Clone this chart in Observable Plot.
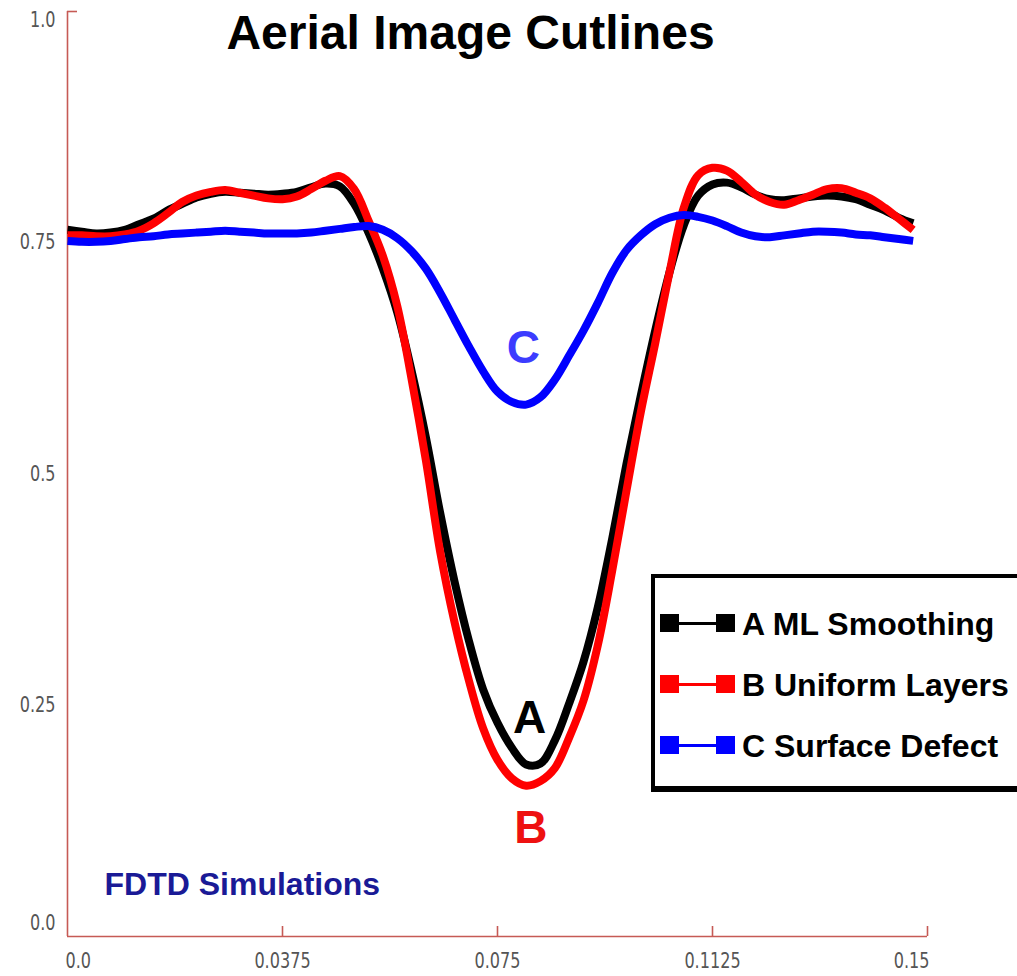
<!DOCTYPE html>
<html>
<head>
<meta charset="utf-8">
<script src="https://cdn.jsdelivr.net/npm/d3@7"></script>
<script src="https://cdn.jsdelivr.net/npm/@observablehq/plot@0.6"></script>
<style>
  html, body { margin: 0; padding: 0; background: #fff; overflow: hidden; }
  #wrap { position: relative; width: 1017px; height: 976px; overflow: hidden; }
  #legend { position: absolute; left: 651px; top: 574px; width: 420px; height: 208px;
            border: 4px solid #000; border-bottom-width: 6px; background: #fff; }
  #legend .sq { position: absolute; width: 19px; height: 18px; }
  #legend .ln { position: absolute; height: 3px; }
  #legend .lbl { position: absolute; font-family: "Liberation Sans", Arial, sans-serif;
                 font-weight: bold; font-size: 32px; line-height: 38px; color: #000; white-space: nowrap; }
</style>
</head>
<body>
<div id="wrap"></div>
<script>
// ---- data ----
const xValues = [0, 0.0025, 0.005, 0.0075, 0.01, 0.0125, 0.015, 0.0175, 0.02, 0.0225,
  0.025, 0.0275, 0.03, 0.0325, 0.035, 0.0375, 0.04, 0.0425, 0.045, 0.0475,
  0.05, 0.0525, 0.055, 0.0575, 0.06, 0.0625, 0.065, 0.0675, 0.07, 0.0725,
  0.075, 0.0775, 0.08, 0.0825, 0.085, 0.0875, 0.09, 0.0925, 0.095, 0.0975,
  0.1, 0.1025, 0.105, 0.1075, 0.11, 0.1125, 0.115, 0.1175, 0.12, 0.1225,
  0.125, 0.1275, 0.13, 0.1325, 0.135, 0.1375, 0.14, 0.1425, 0.145, 0.1475];

const seriesA = [0.764, 0.762, 0.760, 0.761, 0.764, 0.770, 0.776, 0.785, 0.792, 0.799,
  0.803, 0.805, 0.804, 0.803, 0.802, 0.803, 0.805, 0.810, 0.814, 0.811,
  0.792, 0.761, 0.722, 0.675, 0.612, 0.540, 0.458, 0.384, 0.320, 0.267,
  0.231, 0.204, 0.186, 0.187, 0.212, 0.252, 0.297, 0.356, 0.430, 0.511,
  0.585, 0.655, 0.718, 0.769, 0.801, 0.813, 0.815, 0.810, 0.802, 0.797,
  0.796, 0.798, 0.800, 0.801, 0.800, 0.797, 0.791, 0.785, 0.777, 0.771];

const seriesB = [0.758, 0.758, 0.757, 0.757, 0.759, 0.763, 0.771, 0.782, 0.794, 0.801,
  0.805, 0.807, 0.804, 0.801, 0.798, 0.797, 0.800, 0.808, 0.817, 0.822,
  0.808, 0.774, 0.736, 0.682, 0.603, 0.515, 0.416, 0.340, 0.277, 0.225,
  0.191, 0.171, 0.163, 0.168, 0.182, 0.215, 0.255, 0.315, 0.395, 0.482,
  0.567, 0.641, 0.718, 0.788, 0.823, 0.831, 0.828, 0.816, 0.802, 0.794,
  0.791, 0.796, 0.802, 0.808, 0.809, 0.804, 0.798, 0.788, 0.776, 0.764];

const seriesC = [0.752, 0.751, 0.751, 0.752, 0.754, 0.756, 0.757, 0.759, 0.760, 0.761,
  0.762, 0.763, 0.762, 0.761, 0.760, 0.760, 0.760, 0.761, 0.763, 0.765,
  0.767, 0.768, 0.764, 0.755, 0.741, 0.722, 0.696, 0.667, 0.638, 0.611,
  0.589, 0.578, 0.575, 0.583, 0.602, 0.628, 0.655, 0.685, 0.717, 0.742,
  0.758, 0.770, 0.777, 0.780, 0.778, 0.774, 0.768, 0.761, 0.757, 0.756,
  0.758, 0.760, 0.762, 0.762, 0.761, 0.759, 0.758, 0.756, 0.754, 0.752];

const seriesKeys = ["A", "B", "C"];
const seriesNames = ["A ML Smoothing", "B Uniform Layers", "C Surface Defect"];

const xTicks = [0.0, 0.0375, 0.075, 0.1125, 0.15];
const xTickLabels = ["0.0", "0.0375", "0.075", "0.1125", "0.15"];
const yTicks = [0.0, 0.25, 0.5, 0.75, 1.0];
const yTickLabels = ["0.0", "0.25", "0.5", "0.75", "1.0"];

const titleText = "Aerial Image Cutlines";
const noteText = "FDTD Simulations";
const curveLabels = ["C", "A", "B"];
const curveLabelX = [0.0795, 0.0806, 0.0808];
const curveLabelY = [0.636, 0.236, 0.117];

// ---- styles ----
const colors = {A: "#000000", B: "#ff0000", C: "#0000ff"};
const labelColors = {C: "#3c3cff", A: "#000000", B: "#ee1111"};
const axisColor = "#c65a55";
const tickFont = '"Liberation Sans Narrow", "DejaVu Sans Condensed", "Liberation Sans", sans-serif';
const boldFont = '"Liberation Sans", Arial, sans-serif';

// ---- tables ----
const rows = [];
[seriesA, seriesB, seriesC].forEach((vals, i) =>
  vals.forEach((v, j) => rows.push({x: xValues[j], y: v, s: seriesKeys[i]})));
const xTickData = xTicks.map((v, i) => ({v, label: xTickLabels[i]}));
const yTickData = yTicks.map((v, i) => ({v, label: yTickLabels[i]}));
const labelData = curveLabels.map((t, i) => ({t, x: curveLabelX[i], y: curveLabelY[i]}));

const tickTextStyle = {fill: "#555", fontSize: 21, fontFamily: tickFont, className: "ticklbl"};

const chart = Plot.plot({
  width: 1017,
  height: 976,
  marginLeft: 67,
  marginRight: 90,
  marginTop: 11,
  marginBottom: 40,
  style: {background: "#fff", overflow: "visible"},
  x: {domain: [0, 0.15], axis: null},
  y: {domain: [0, 1], axis: null},
  marks: [
    Plot.ruleX([0], {stroke: axisColor, strokeWidth: 1.6}),
    Plot.ruleY([0], {stroke: axisColor, strokeWidth: 1.6}),
    Plot.ruleX(xTicks.slice(1), {x: d => d, insetTop: 915, stroke: axisColor, strokeWidth: 1.6}),
    Plot.ruleY([1], {y: d => d, insetRight: 850, stroke: axisColor, strokeWidth: 1.6}),
    ...seriesKeys.map(k => Plot.line(rows.filter(r => r.s === k), {
      x: "x", y: "y", stroke: colors[k], strokeWidth: 8, curve: "catmull-rom",
      strokeLinejoin: "round", strokeLinecap: "butt"
    })),
    // x tick labels
    Plot.text(xTickData.slice(0, 1), {x: "v", text: "label", frameAnchor: "bottom", dy: 31, dx: -2, textAnchor: "start", ...tickTextStyle}),
    Plot.text(xTickData.slice(1, -1), {x: "v", text: "label", frameAnchor: "bottom", dy: 31, textAnchor: "middle", ...tickTextStyle}),
    Plot.text(xTickData.slice(-1), {x: "v", text: "label", frameAnchor: "bottom", dy: 31, dx: 2, textAnchor: "end", ...tickTextStyle}),
    // y tick labels
    Plot.text(yTickData.slice(0, 1), {y: "v", text: "label", frameAnchor: "left", dx: -12, dy: -13, textAnchor: "end", ...tickTextStyle}),
    Plot.text(yTickData.slice(1, -1), {y: "v", text: "label", frameAnchor: "left", dx: -12, dy: 0, textAnchor: "end", ...tickTextStyle}),
    Plot.text(yTickData.slice(-1), {y: "v", text: "label", frameAnchor: "left", dx: -12, dy: 9, textAnchor: "end", ...tickTextStyle}),
    // curve labels
    ...labelData.map(d => Plot.text([d], {x: "x", y: "y", text: "t", fill: labelColors[d.t],
      fontSize: 46, fontWeight: "bold", fontFamily: boldFont, textAnchor: "middle"})),
    // title
    Plot.text([titleText], {frameAnchor: "top", dx: -27, dy: 3, fontSize: 48, fontWeight: "bold",
      fontFamily: boldFont, fill: "#000"}),
    // note
    Plot.text([noteText], {frameAnchor: "bottom-left", dx: 37, dy: -42, textAnchor: "start",
      fontSize: 32, fontWeight: "bold", fontFamily: boldFont, fill: "#1a1a96"})
  ]
});

const wrap = document.getElementById("wrap");
wrap.appendChild(chart);

// narrow the tick labels to mimic the condensed face of the original
chart.querySelectorAll("g.ticklbl text, .ticklbl text").forEach(t => {
  const w = t.getComputedTextLength();
  if (w > 0) {
    t.setAttribute("textLength", (w * 0.85).toFixed(1));
    t.setAttribute("lengthAdjust", "spacingAndGlyphs");
  }
});

// legend
const legend = document.createElement("div");
legend.id = "legend";
seriesKeys.forEach((k, i) => {
  const cy = 45 + 61 * i;
  const c = colors[k];
  const sq1 = document.createElement("div");
  sq1.className = "sq"; sq1.style.left = "5px"; sq1.style.top = (cy - 9) + "px"; sq1.style.background = c;
  const ln = document.createElement("div");
  ln.className = "ln"; ln.style.left = "22px"; ln.style.width = "42px"; ln.style.top = (cy - 1) + "px"; ln.style.background = c;
  const sq2 = document.createElement("div");
  sq2.className = "sq"; sq2.style.left = "61px"; sq2.style.top = (cy - 9) + "px"; sq2.style.background = c;
  const lbl = document.createElement("div");
  lbl.className = "lbl"; lbl.style.left = "87px"; lbl.style.top = (cy - 18) + "px";
  lbl.textContent = seriesNames[i];
  legend.append(sq1, ln, sq2, lbl);
});
wrap.appendChild(legend);
</script>
</body>
</html>
